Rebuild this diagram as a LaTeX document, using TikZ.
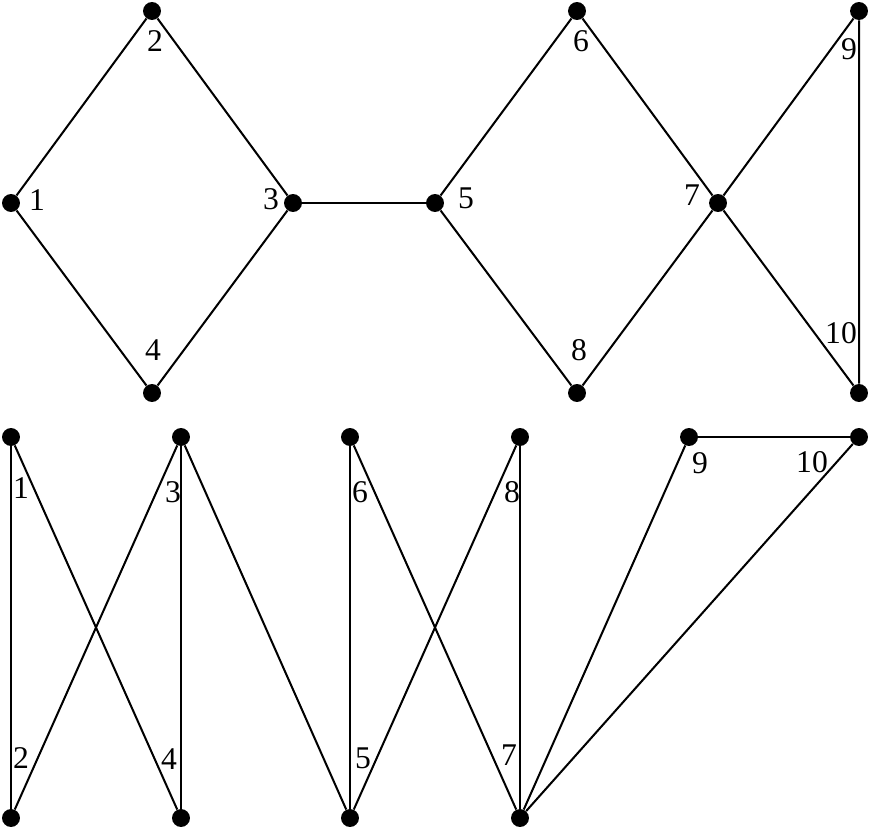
\documentclass[tikz,border=0pt]{standalone}
\usepackage{fontspec}
\setmainfont{Liberation Serif}
\usepackage{tikz}
\usetikzlibrary{positioning}

\begin{document}
\begin{tikzpicture}[x=0.02cm,y=-0.02cm,
    vtx/.style={circle,fill=black,inner sep=0pt,minimum size=10.2pt},
    lbl/.style={inner sep=0pt,font=\fontsize{18}{21}\selectfont},
    edge/.style={line width=1.15pt}]
                \useasboundingbox (0,0) rectangle (872,831);
                %Upper graph
                \node[vtx] (u1) at (11,203) {};
                \node[vtx] (u2) at (152,11) {};
                \node[vtx] (u3) at (293,203) {};
                \node[vtx] (u4) at (152,393) {};
                \node[vtx] (u5) at (435,203) {};
                \node[vtx] (u6) at (577,11) {};
                \node[vtx] (u7) at (718,203) {};
                \node[vtx] (u8) at (577,393) {};
                \node[vtx] (u9) at (859,11) {};
                \node[vtx] (u10) at (859,393) {};
                %Upper labels
                \node[lbl] (lu1) at (37,200) {1};
                \node[lbl] (lu2) at (155,41) {2};
                \node[lbl] (lu3) at (271,199) {3};
                \node[lbl] (lu4) at (153,350) {4};
                \node[lbl] (lu5) at (466,198) {5};
                \node[lbl] (lu6) at (581,41) {6};
                \node[lbl] (lu7) at (692,195) {7};
                \node[lbl] (lu8) at (579,350) {8};
                \node[lbl] (lu9) at (849,49) {9};
                \node[lbl] (lu10) at (841,333) {10};
                %Upper edges
                \draw[edge] (u1) -- (u2) -- (u3) -- (u4) -- (u1);
                \draw[edge] (u3) -- (u5);
                \draw[edge] (u5) -- (u6) -- (u7) -- (u8) -- (u5);
                \draw[edge] (u7) -- (u9) -- (u10) -- (u7);
                %Lower graph
                \node[vtx] (d1) at (11,437) {};
                \node[vtx] (d2) at (11,818) {};
                \node[vtx] (d3) at (181,437) {};
                \node[vtx] (d4) at (181,818) {};
                \node[vtx] (d6) at (350,437) {};
                \node[vtx] (d5) at (350,818) {};
                \node[vtx] (d8) at (520,437) {};
                \node[vtx] (d7) at (520,818) {};
                \node[vtx] (d9) at (689,437) {};
                \node[vtx] (d10) at (859,437) {};
                %Lower labels
                \node[lbl] (ld1) at (21,488) {1};
                \node[lbl] (ld2) at (21,758) {2};
                \node[lbl] (ld3) at (173,492) {3};
                \node[lbl] (ld4) at (169,759) {4};
                \node[lbl] (ld5) at (363,758) {5};
                \node[lbl] (ld6) at (360,492) {6};
                \node[lbl] (ld7) at (509,755) {7};
                \node[lbl] (ld8) at (512,492) {8};
                \node[lbl] (ld9) at (700,463) {9};
                \node[lbl] (ld10) at (812,462) {10};
                %Lower edges
                \draw[edge] (d1) -- (d2);
                \draw[edge] (d1) -- (d4);
                \draw[edge] (d3) -- (d2);
                \draw[edge] (d3) -- (d4);
                \draw[edge] (d3) -- (d5);
                \draw[edge] (d6) -- (d5);
                \draw[edge] (d6) -- (d7);
                \draw[edge] (d8) -- (d5);
                \draw[edge] (d8) -- (d7);
                \draw[edge] (d9) -- (d7);
                \draw[edge] (d10) -- (d7);
                \draw[edge] (d9) -- (d10);
\end{tikzpicture}
\end{document}
